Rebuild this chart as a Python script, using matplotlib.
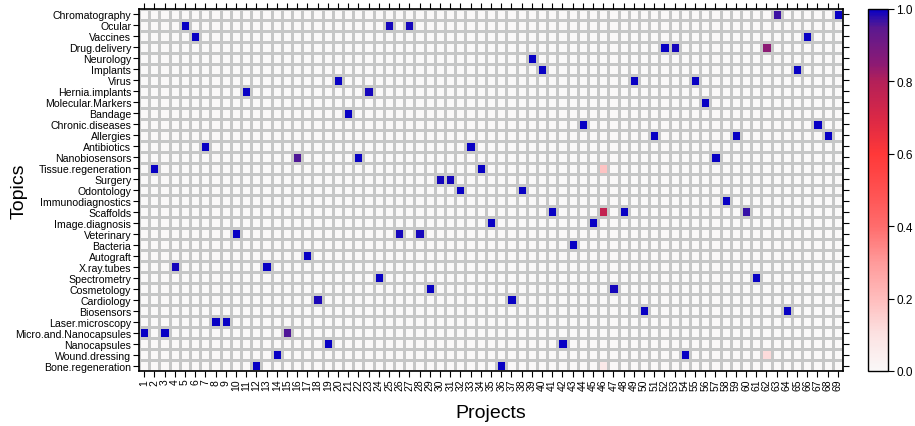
import numpy as np
import matplotlib
matplotlib.use("Agg")
import matplotlib.pyplot as plt
from matplotlib.colors import LinearSegmentedColormap

plt.rcParams['font.family'] = ['Liberation Sans', 'DejaVu Sans']

topics = ["Chromatography", "Ocular", "Vaccines", "Drug.delivery", "Neurology", "Implants",
          "Virus", "Hernia.implants", "Molecular.Markers", "Bandage", "Chronic.diseases",
          "Allergies", "Antibiotics", "Nanobiosensors", "Tissue.regeneration", "Surgery",
          "Odontology", "Immunodiagnostics", "Scaffolds", "Image.diagnosis", "Veterinary",
          "Bacteria", "Autograft", "X.ray.tubes", "Spectrometry", "Cosmetology", "Cardiology",
          "Biosensors", "Laser.microscopy", "Micro.and.Nanocapsules", "Nanocapsules",
          "Wound.dressing", "Bone.regeneration"]
projects = [str(i) for i in range(1, 70)]

# non-zero cells: topic, project, value
cell_topic = ["Chromatography", "Chromatography",
              "Ocular", "Ocular", "Ocular",
              "Vaccines", "Vaccines",
              "Drug.delivery", "Drug.delivery", "Drug.delivery",
              "Neurology",
              "Implants", "Implants",
              "Virus", "Virus", "Virus",
              "Hernia.implants", "Hernia.implants",
              "Molecular.Markers",
              "Bandage",
              "Chronic.diseases", "Chronic.diseases",
              "Allergies", "Allergies", "Allergies",
              "Antibiotics", "Antibiotics",
              "Nanobiosensors", "Nanobiosensors", "Nanobiosensors",
              "Tissue.regeneration", "Tissue.regeneration", "Tissue.regeneration",
              "Surgery", "Surgery",
              "Odontology", "Odontology",
              "Immunodiagnostics",
              "Scaffolds", "Scaffolds", "Scaffolds", "Scaffolds",
              "Image.diagnosis", "Image.diagnosis",
              "Veterinary", "Veterinary", "Veterinary",
              "Bacteria",
              "Autograft",
              "X.ray.tubes", "X.ray.tubes",
              "Spectrometry", "Spectrometry",
              "Cosmetology", "Cosmetology",
              "Cardiology", "Cardiology",
              "Biosensors", "Biosensors",
              "Laser.microscopy", "Laser.microscopy",
              "Micro.and.Nanocapsules", "Micro.and.Nanocapsules", "Micro.and.Nanocapsules",
              "Nanocapsules", "Nanocapsules",
              "Wound.dressing", "Wound.dressing", "Wound.dressing",
              "Bone.regeneration", "Bone.regeneration", "Bone.regeneration"]
cell_project = [63, 69,
                5, 25, 27,
                6, 66,
                52, 53, 62,
                39,
                40, 65,
                20, 49, 55,
                11, 23,
                56,
                21,
                44, 67,
                51, 59, 68,
                7, 33,
                16, 22, 57,
                2, 34, 46,
                30, 31,
                32, 38,
                58,
                41, 46, 48, 60,
                35, 45,
                10, 26, 28,
                43,
                17,
                4, 13,
                24, 61,
                29, 47,
                18, 37,
                50, 64,
                8, 9,
                1, 3, 15,
                19, 42,
                14, 54, 62,
                12, 36, 46]
cell_value = [0.965, 1.0,
              1.0, 0.99, 0.99,
              1.0, 1.0,
              1.0, 0.99, 0.85,
              1.0,
              1.0, 1.0,
              1.0, 1.0, 1.0,
              1.0, 0.99,
              1.0,
              1.0,
              1.0, 1.0,
              1.0, 1.0, 1.0,
              1.0, 1.0,
              0.955, 1.0, 1.0,
              1.0, 1.0, 0.18,
              0.99, 0.99,
              1.0, 1.0,
              1.0,
              1.0, 0.76, 1.0, 0.97,
              1.0, 1.0,
              1.0, 0.99, 0.99,
              1.0,
              1.0,
              0.99, 1.0,
              1.0, 1.0,
              1.0, 0.99,
              0.985, 1.0,
              1.0, 1.0,
              1.0, 1.0,
              1.0, 1.0, 0.955,
              1.0, 1.0,
              1.0, 1.0, 0.12,
              1.0, 1.0, 0.07]

nrow, ncol = len(topics), len(projects)
Z = np.zeros((nrow, ncol))
for t, p, v in zip(cell_topic, cell_project, cell_value):
    Z[topics.index(t), p - 1] = v

anchors = [(0.0, '#FAF8F8'), (0.1, '#FCE2E2'), (0.2, '#FFBCBC'), (0.3, '#FF9A9A'),
           (0.4, '#FF6C6C'), (0.5, '#FF5050'), (0.6, '#FF3838'), (0.7, '#DA2846'),
           (0.8, '#B42058'), (0.85, '#8C1A74'), (0.9, '#741A82'), (0.95, '#5A1890'),
           (0.97, '#3A12A4'), (1.0, '#0800C4')]
cmap = LinearSegmentedColormap.from_list('wrb', anchors, N=256)

fig = plt.figure(figsize=(9.15, 4.27), dpi=100)
ax = fig.add_axes([139/915, (427-372)/427, 704/915, 362/427])
x = np.arange(ncol + 1) + 0.5
y = np.arange(nrow + 1) - 0.5
mesh = ax.pcolormesh(x, y, Z, cmap=cmap, vmin=0, vmax=1,
                     edgecolors='#C6C6C6', linewidth=0.8)
ax.set_xlim(0.5, ncol + 0.5)
ax.set_ylim(nrow - 0.5, -0.5)

ax.set_xticks(np.arange(1, ncol + 1))
ax.set_xticklabels(projects, rotation=90, fontsize=7.5)
ax.set_yticks(np.arange(nrow))
ax.set_yticklabels(topics, fontsize=7.6)
ax.tick_params(axis='both', which='both', direction='out', length=4, width=0.8,
               top=True, right=True, pad=1.5)
for s in ax.spines.values():
    s.set_linewidth(1.2)
ax.set_xlabel('Projects', fontsize=14, labelpad=10)
ax.set_ylabel('Topics', fontsize=14)
ax.yaxis.set_label_coords(-0.158, 0.5)

cax = fig.add_axes([868/915, (427-372)/427, 20/915, 362/427])
cb = fig.colorbar(mesh, cax=cax, ticks=[0, 0.2, 0.4, 0.6, 0.8, 1.0])
cb.ax.set_yticklabels(['0.0', '0.2', '0.4', '0.6', '0.8', '1.0'], fontsize=8.5)
cb.ax.tick_params(length=4, width=0.8, pad=2)
cb.outline.set_linewidth(1.0)

fig.savefig('out.png', dpi=100)
